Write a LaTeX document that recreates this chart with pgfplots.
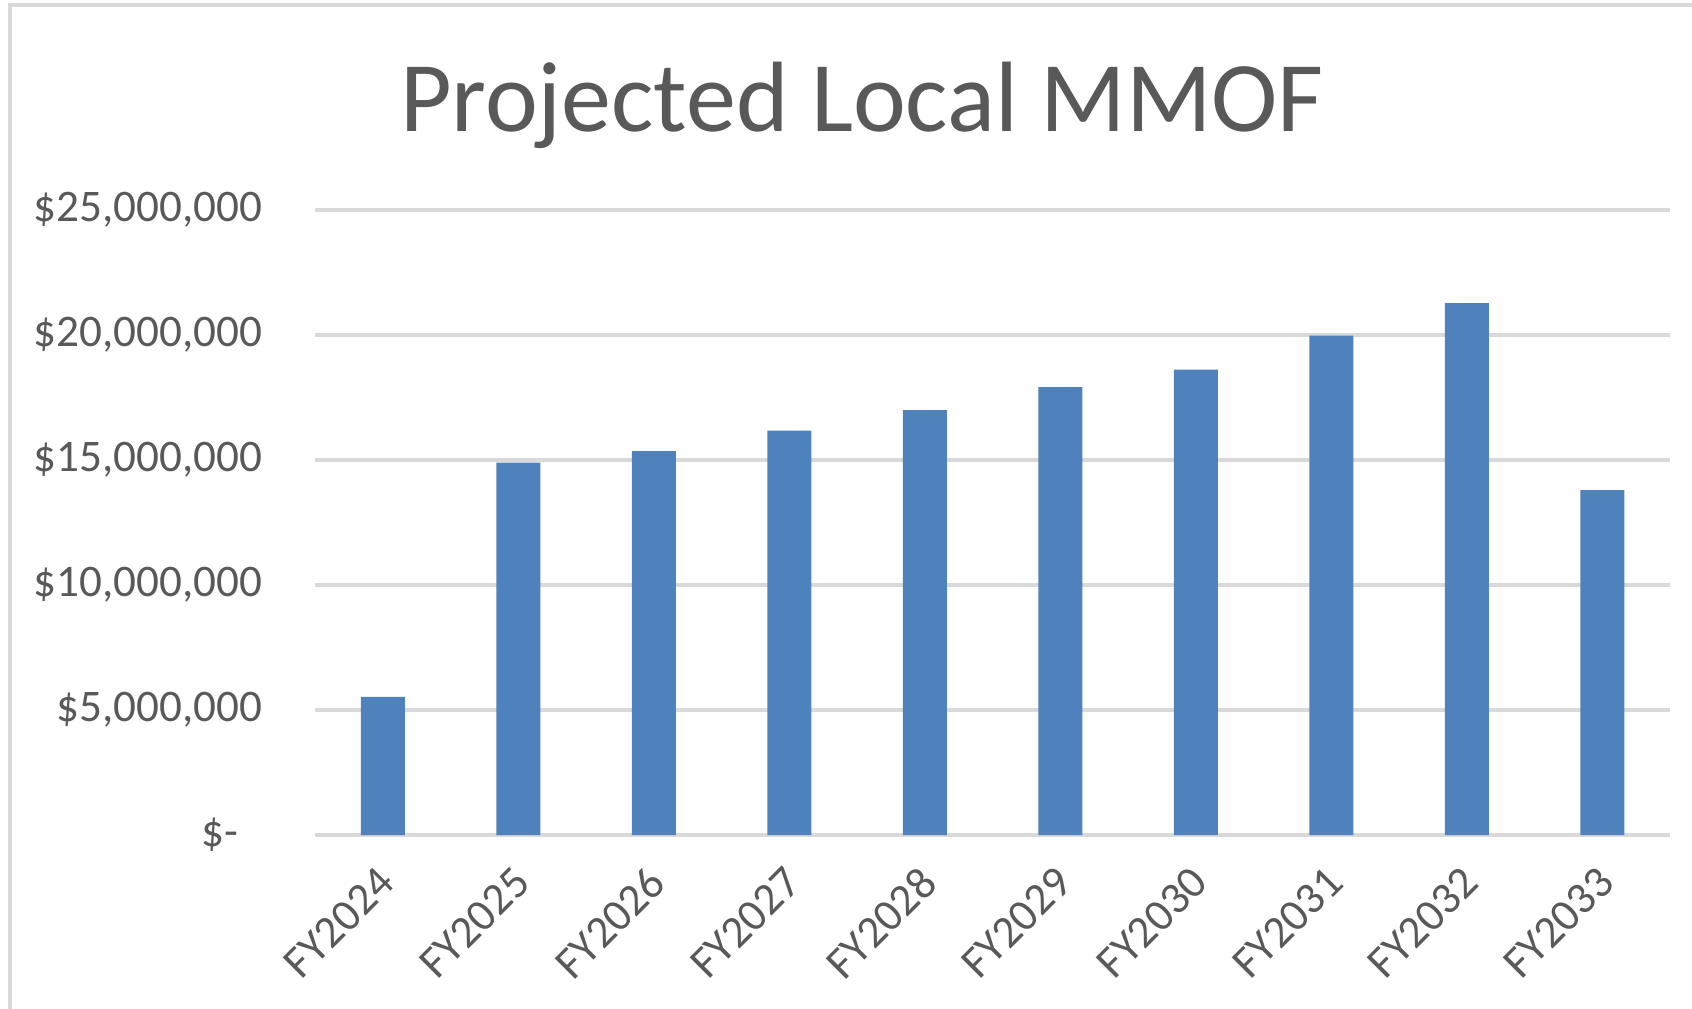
\documentclass[border=0pt]{standalone}
\usepackage{fontspec}
\setmainfont{Carlito}
\usepackage{pgfplots}
\pgfplotsset{compat=1.18}
\definecolor{barblue}{HTML}{4F81BD}
\definecolor{gridgray}{HTML}{D9D9D9}
\definecolor{textgray}{HTML}{595959}

\begin{document}
\begin{tikzpicture}
% picture in pt, 1 px of the reference = 0.5pt
\path[use as bounding box] (0,0) rectangle (846pt,504pt);
\draw[gridgray, line width=1.8pt] (5pt,-5pt) -- (5pt,501.5pt) -- (851pt,501.5pt);
\node[textgray, font=\fontsize{50}{60}\selectfont, anchor=base, inner sep=0pt]
  at (431pt,438pt) {Projected Local MMOF};
\begin{axis}[
  at={(157.5pt,86.5pt)}, anchor=south west,
  width=677.5pt, height=312.5pt, scale only axis,
  xmin=-0.5, xmax=9.5, ymin=0, ymax=25000000,
  scaled y ticks=false,
  axis line style={draw=none},
  major tick length=0pt,
  ymajorgrids, grid style={gridgray, line width=1.6pt},
  ytick={0,5000000,10000000,15000000,20000000,25000000},
  yticklabels={{\$-\hspace*{12pt}},{\$5,000,000},{\$10,000,000},{\$15,000,000},{\$20,000,000},{\$25,000,000}},
  xtick={0,...,9},
  xticklabels={FY2024,FY2025,FY2026,FY2027,FY2028,FY2029,FY2030,FY2031,FY2032,FY2033},
  ticklabel style={font=\fontsize{22.6}{27}\selectfont, text=textgray},
  yticklabel style={anchor=east, inner sep=0pt, xshift=-26pt},
  xticklabel style={xshift=2pt, yshift=-20pt, rotate=45, anchor=east, inner sep=0pt},
  ybar, bar width=22pt,
]
\addplot[fill=barblue, draw=none] coordinates {
  (0,5530000) (1,14900000) (2,15360000) (3,16180000) (4,16990000)
  (5,17910000) (6,18610000) (7,19970000) (8,21270000) (9,13800000)
};
\end{axis}
\end{tikzpicture}
\end{document}
